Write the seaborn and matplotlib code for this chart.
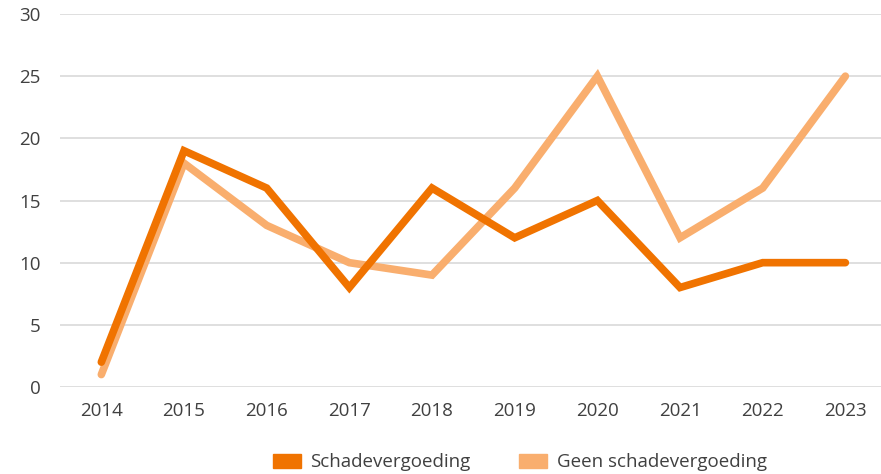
import pandas as pd
import matplotlib
matplotlib.use("Agg")
import matplotlib.pyplot as plt
import matplotlib.patches as mpatches
import seaborn as sns

# data
years = [2014, 2015, 2016, 2017, 2018, 2019, 2020, 2021, 2022, 2023]
schade = [2, 19, 16, 8, 16, 12, 15, 8, 10, 10]
geen_schade = [1, 18, 13, 10, 9, 16, 25, 12, 16, 25]
series_names = ["Schadevergoeding", "Geen schadevergoeding"]
colors = ["#f07300", "#f9ae6e"]

df = pd.DataFrame({
    "jaar": years * 2,
    "aantal": schade + geen_schade,
    "reeks": [series_names[0]] * len(years) + [series_names[1]] * len(years),
})

sns.set_style("white")
plt.rcParams["font.family"] = ["Open Sans", "DejaVu Sans"]

fig = plt.figure(figsize=(8.81, 4.74), dpi=100)
ax = fig.add_axes([60 / 881, 87 / 474, 821 / 881, 373 / 474])

# draw light series first so the dark one sits on top
sns.lineplot(data=df, x="jaar", y="aantal", hue="reeks",
             hue_order=series_names[::-1], palette=colors[::-1],
             linewidth=5.5, solid_capstyle="round", solid_joinstyle="miter",
             legend=False, ax=ax, zorder=3)

ax.set_xlim(2013.5, 2013.5 + 821 / 82.67)
ax.set_ylim(0, 30)
ax.set_yticks(range(0, 31, 5))
ax.set_xticks(years)
ax.yaxis.grid(True, color="#d9d9d9", linewidth=1.2)
ax.xaxis.grid(False)
for s in ax.spines.values():
    s.set_visible(False)
ax.tick_params(axis="y", length=0, pad=14, labelsize=13.5, labelcolor="#404040")
ax.tick_params(axis="x", length=0, pad=11, labelsize=13.5, labelcolor="#404040")
ax.set_xlabel("")
ax.set_ylabel("")

handles = [mpatches.Patch(color=c, label=n) for c, n in zip(colors, series_names)]
fig.legend(handles=handles, loc="lower center", bbox_to_anchor=(0.590, -0.03),
           ncol=2, frameon=False, fontsize=13.5, labelcolor="#404040",
           handlelength=1.5, handleheight=0.8, handletextpad=0.5, columnspacing=2.6)

fig.savefig("out.png", dpi=100)
